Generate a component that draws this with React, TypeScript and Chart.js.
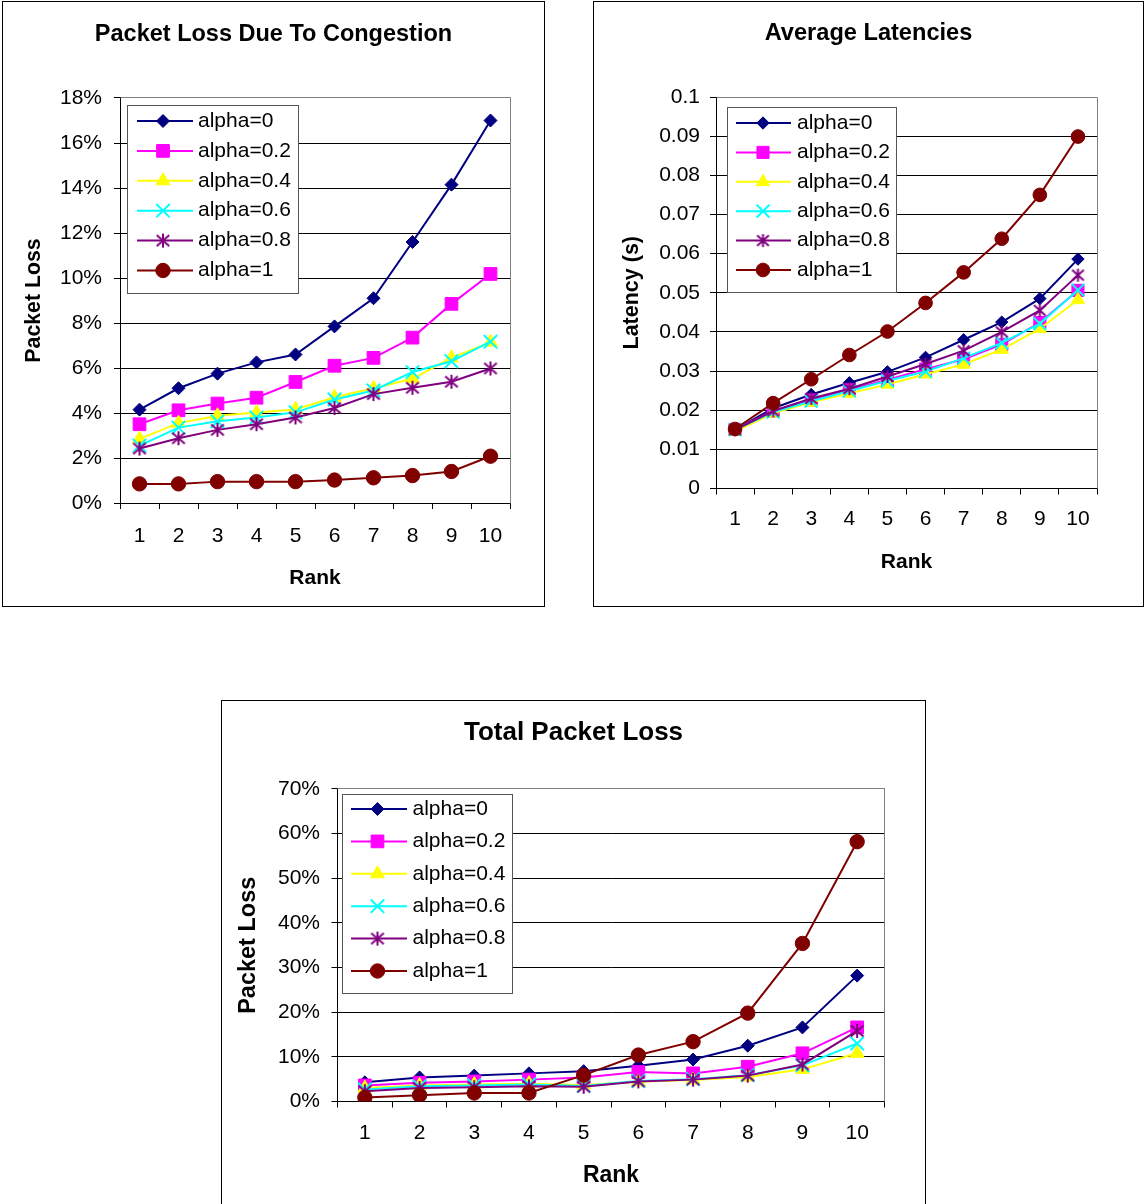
import React, { useEffect, useRef } from 'react';
import { Chart, registerables } from 'chart.js';
import { drawPoint } from 'chart.js/helpers';

Chart.register(...registerables);

const FONT = "'Liberation Sans', Arial, Helvetica, sans-serif";

// ---------- data ----------
const rankLabels = ['1', '2', '3', '4', '5', '6', '7', '8', '9', '10'];
const seriesNames = ['alpha=0', 'alpha=0.2', 'alpha=0.4', 'alpha=0.6', 'alpha=0.8', 'alpha=1'];

// Packet loss due to congestion (%)
const congestionA0 = [4.15, 5.1, 5.75, 6.25, 6.6, 7.85, 9.1, 11.6, 14.15, 17.0];
const congestionA02 = [3.5, 4.12, 4.42, 4.68, 5.38, 6.1, 6.45, 7.35, 8.85, 10.18];
const congestionA04 = [2.85, 3.55, 3.88, 4.02, 4.16, 4.7, 5.1, 5.52, 6.45, 7.15];
const congestionA06 = [2.55, 3.35, 3.63, 3.8, 4.03, 4.6, 5.0, 5.82, 6.3, 7.17];
const congestionA08 = [2.42, 2.88, 3.25, 3.5, 3.8, 4.22, 4.84, 5.12, 5.39, 5.98];
const congestionA1 = [0.85, 0.85, 0.95, 0.95, 0.95, 1.02, 1.12, 1.22, 1.4, 2.08];

// Average latencies (s)
const latencyA0 = [0.015, 0.0205, 0.024, 0.027, 0.0298, 0.0335, 0.038, 0.0425, 0.0485, 0.0586];
const latencyA02 = [0.0151, 0.0198, 0.0226, 0.0252, 0.0278, 0.0305, 0.033, 0.0368, 0.0424, 0.0506];
const latencyA04 = [0.0146, 0.0192, 0.022, 0.0243, 0.0266, 0.0292, 0.0317, 0.0355, 0.0408, 0.0482];
const latencyA06 = [0.015, 0.0195, 0.0223, 0.0249, 0.0275, 0.0299, 0.0333, 0.0372, 0.0421, 0.0507];
const latencyA08 = [0.015, 0.0198, 0.023, 0.0255, 0.0286, 0.0318, 0.0352, 0.04, 0.0455, 0.0545];
const latencyA1 = [0.0152, 0.0218, 0.0279, 0.0341, 0.0401, 0.0474, 0.0552, 0.0638, 0.075, 0.0899];

// Total packet loss (%)
const totalA0 = [4.3, 5.4, 5.8, 6.3, 6.8, 8.0, 9.4, 12.5, 16.6, 28.2];
const totalA02 = [3.6, 4.2, 4.5, 4.9, 5.4, 6.6, 6.3, 7.8, 10.8, 16.6];
const totalA04 = [3.0, 3.6, 3.8, 4.0, 3.7, 4.4, 4.8, 5.5, 7.2, 10.8];
const totalA06 = [2.7, 3.4, 3.6, 3.8, 3.5, 4.6, 5.0, 5.9, 8.1, 13.0];
const totalA08 = [2.3, 3.0, 3.2, 3.4, 3.3, 4.5, 4.9, 5.8, 8.3, 15.8];
const totalA1 = [0.9, 1.4, 1.9, 1.9, 5.9, 10.4, 13.4, 19.8, 35.4, 58.2];

// axis ranges
const congestionAxis = { min: 0, max: 18, step: 2 };
const latencyAxis = { min: 0, max: 0.1, step: 0.01 };
const totalAxis = { min: 0, max: 70, step: 10 };

// ---------- styles ----------
const seriesColors = ['#000080', '#FF00FF', '#FFFF00', '#00FFFF', '#800080', '#800000'];
const seriesMarkers = ['rectRot', 'rect', 'triangle', 'crossRot', 'asterisk', 'circle'];
const markerRadius = [6.5, 9, 8, 9.5, 7, 7.2];
const markerBorder = [1, 1, 1, 2, 2, 1];

function makeAsterisk(color: string, size: number, lw: number) {
  const c = document.createElement('canvas');
  c.width = size;
  c.height = size;
  const g = c.getContext('2d')!;
  g.strokeStyle = color;
  g.lineWidth = lw;
  const m = size / 2;
  const a = size / 2 - 1;
  g.beginPath();
  g.moveTo(m, m - a);
  g.lineTo(m, m + a);
  g.moveTo(m - a * 0.9, m - a * 0.8);
  g.lineTo(m + a * 0.9, m + a * 0.8);
  g.moveTo(m + a * 0.9, m - a * 0.8);
  g.lineTo(m - a * 0.9, m + a * 0.8);
  g.stroke();
  return c;
}

type Spec = {
  box: { left: number; top: number; width: number; height: number };
  area: { L: number; T: number; R: number; B: number };
  title: string;
  titleSize: number;
  titleCenterY: number;
  yTitle: string;
  yTitleSize: number;
  yTitleCenterX: number;
  xTitleSize: number;
  xTitleCenterY: number;
  tickSize: number;
  yTickGap: number;
  xTickCenterY: number;
  legend: {
    dx: number; dy: number; w: number; h: number; first: number; spacing: number;
    lineX1: number; lineX2: number; markerX: number; textX: number; font: number;
  };
  markerScale: number;
};

const frameLegendPlugin = {
  id: 'frameLegend',
  beforeDatasetsDraw(chart: any) {
    const { ctx, chartArea } = chart;
    const al = (p: number) => Math.round(p - 0.5) + 0.5;
    ctx.save();
    ctx.strokeStyle = '#808080';
    ctx.lineWidth = 1;
    ctx.beginPath();
    ctx.moveTo(al(chartArea.left), al(chartArea.top));
    ctx.lineTo(al(chartArea.right), al(chartArea.top));
    ctx.lineTo(al(chartArea.right), al(chartArea.bottom));
    ctx.stroke();
    ctx.restore();
  },
  afterDatasetsDraw(chart: any, _args: any, opts: any) {
    const lg = opts.legend;
    if (!lg) return;
    const { ctx, chartArea } = chart;
    const x0 = Math.round(chartArea.left + lg.dx);
    const y0 = Math.round(chartArea.top + lg.dy);
    ctx.save();
    ctx.fillStyle = '#ffffff';
    ctx.fillRect(x0, y0, lg.w, lg.h);
    ctx.strokeStyle = '#555555';
    ctx.lineWidth = 1;
    ctx.strokeRect(x0 + 0.5, y0 + 0.5, lg.w, lg.h);
    chart.data.datasets.forEach((ds: any, i: number) => {
      const y = y0 + lg.first + i * lg.spacing;
      ctx.strokeStyle = ds.borderColor;
      ctx.lineWidth = 2;
      ctx.beginPath();
      ctx.moveTo(x0 + lg.lineX1, y);
      ctx.lineTo(x0 + lg.lineX2, y);
      ctx.stroke();
      ctx.fillStyle = ds.pointBackgroundColor;
      ctx.strokeStyle = ds.pointBorderColor;
      ctx.lineWidth = ds.pointBorderWidth;
      drawPoint(ctx, {
        pointStyle: ds.pointStyle,
        radius: ds.pointRadius,
        borderWidth: ds.pointBorderWidth,
        rotation: 0,
      } as any, x0 + lg.markerX, y);
      ctx.fillStyle = '#000000';
      ctx.font = `${lg.font}px ${FONT}`;
      ctx.textBaseline = 'middle';
      ctx.textAlign = 'left';
      ctx.fillText(ds.label, x0 + lg.textX, y);
    });
    ctx.restore();
  },
};

function buildConfig(spec: Spec, series: number[][], axis: { min: number; max: number; step: number }, fmt: (v: number) => string) {
  const W = spec.box.width - 2;
  const H = spec.box.height - 2;
  const { L, T, R, B } = spec.area;
  const tl = 6;
  const tLh = spec.titleSize * 1.2;
  const titlePadTop = spec.titleCenterY - tLh / 2;
  const titlePadBottom = T - titlePadTop - tLh;
  const yLh = spec.yTitleSize * 1.2;
  const yTitlePad = spec.yTitleCenterX - yLh / 2;
  const xLh = spec.xTitleSize * 1.2;
  const xTitlePadBottom = H - spec.xTitleCenterY - xLh / 2;
  const tickLh = spec.tickSize * 1.2;
  const xTickPad = spec.xTickCenterY - B - tl - tickLh / 2;
  const yTickPad = spec.yTickGap - tl;

  const datasets = series.map((values, i) => {
    const marker = seriesMarkers[i] === 'asterisk'
      ? makeAsterisk(seriesColors[i], Math.round(16 * spec.markerScale), markerBorder[i])
      : seriesMarkers[i];
    const r = markerRadius[i] * spec.markerScale;
    return {
      label: seriesNames[i],
      data: values,
      yAxisID: 'y',
      xAxisID: 'x',
      borderColor: seriesColors[i],
      backgroundColor: seriesColors[i],
      borderWidth: 2,
      tension: 0,
      fill: false,
      pointStyle: marker,
      pointRadius: r,
      pointHoverRadius: r,
      pointBackgroundColor: seriesColors[i],
      pointBorderColor: seriesColors[i],
      pointBorderWidth: markerBorder[i],
      order: -i,
    };
  });

  return {
    type: 'line',
    data: { labels: rankLabels, datasets },
    options: {
      responsive: false,
      animation: false,
      devicePixelRatio: 1,
      events: [],
      layout: { padding: { left: 0, right: 0, top: 0, bottom: 0 } },
      plugins: {
        legend: { display: false },
        tooltip: { enabled: false },
        title: {
          display: true,
          text: spec.title,
          color: '#000000',
          font: { family: FONT, size: spec.titleSize, weight: 'bold', lineHeight: 1.2 },
          padding: { top: titlePadTop, bottom: titlePadBottom },
        },
        frameLegend: { legend: spec.legend },
      },
      scales: {
        x: {
          type: 'category',
          position: 'bottom',
          offset: true,
          grid: {
            offset: true,
            drawOnChartArea: false,
            drawTicks: true,
            tickLength: tl,
            color: '#000000',
            lineWidth: 1,
          },
          border: { display: true, color: '#000000', width: 1 },
          ticks: {
            color: '#000000',
            font: { family: FONT, size: spec.tickSize, lineHeight: 1.2 },
            padding: xTickPad,
            autoSkip: false,
            maxRotation: 0,
            minRotation: 0,
          },
          title: {
            display: true,
            text: 'Rank',
            color: '#000000',
            font: { family: FONT, size: spec.xTitleSize, weight: 'bold', lineHeight: 1.2 },
            padding: { top: 0, bottom: xTitlePadBottom },
          },
          afterFit: (s: any) => { s.height = H - B; },
        },
        y: {
          type: 'linear',
          position: 'left',
          min: axis.min,
          max: axis.max,
          grid: {
            drawOnChartArea: true,
            drawTicks: true,
            tickLength: tl,
            color: '#000000',
            lineWidth: 1,
          },
          border: { display: true, color: '#000000', width: 1 },
          ticks: {
            stepSize: axis.step,
            color: '#000000',
            font: { family: FONT, size: spec.tickSize, lineHeight: 1.2 },
            padding: yTickPad,
            callback: (v: any) => fmt(Number(v)),
          },
          title: {
            display: true,
            text: spec.yTitle,
            color: '#000000',
            font: { family: FONT, size: spec.yTitleSize, weight: 'bold', lineHeight: 1.2 },
            padding: { top: yTitlePad, bottom: 0 },
          },
          afterFit: (s: any) => { s.width = L; },
        },
        spacer: {
          type: 'linear',
          position: 'right',
          display: true,
          grid: { display: false, drawTicks: false },
          border: { display: false },
          ticks: { display: false },
          afterFit: (s: any) => { s.width = W - R; },
        },
      },
    },
    plugins: [frameLegendPlugin],
  } as any;
}

const pctFmt = (v: number) => `${Math.round(v)}%`;
const latFmt = (v: number) => `${Number(v.toFixed(2))}`;

const spec1: Spec = {
  box: { left: 2, top: 1, width: 543, height: 606 },
  area: { L: 117, T: 96, R: 507, B: 501 },
  title: 'Packet Loss Due To Congestion',
  titleSize: 23.5,
  titleCenterY: 33,
  yTitle: 'Packet Loss',
  yTitleSize: 21.3,
  yTitleCenterX: 31,
  xTitleSize: 21,
  xTitleCenterY: 576.5,
  tickSize: 21,
  yTickGap: 18,
  xTickCenterY: 534.5,
  legend: { dx: 7, dy: 7, w: 171, h: 188, first: 16, spacing: 29.9, lineX1: 10, lineX2: 66, markerX: 36, textX: 71, font: 21 },
  markerScale: 1,
};

const spec2: Spec = {
  box: { left: 593, top: 1, width: 551, height: 606 },
  area: { L: 122, T: 95, R: 503, B: 486.5 },
  title: 'Average Latencies',
  titleSize: 23.6,
  titleCenterY: 31,
  yTitle: 'Latency (s)',
  yTitleSize: 21.5,
  yTitleCenterX: 38,
  xTitleSize: 21,
  xTitleCenterY: 560.5,
  tickSize: 21,
  yTickGap: 16,
  xTickCenterY: 517.5,
  legend: { dx: 10.5, dy: 10, w: 169, h: 185, first: 16, spacing: 29.4, lineX1: 9, lineX2: 64, markerX: 36, textX: 70, font: 21 },
  markerScale: 0.95,
};

const spec3: Spec = {
  box: { left: 221, top: 700, width: 705, height: 515 },
  area: { L: 115.5, T: 88, R: 662.5, B: 400.5 },
  title: 'Total Packet Loss',
  titleSize: 26,
  titleCenterY: 31.5,
  yTitle: 'Packet Loss',
  yTitleSize: 23.5,
  yTitleCenterX: 27,
  xTitleSize: 23,
  xTitleCenterY: 474.5,
  tickSize: 21,
  yTickGap: 17.5,
  xTickCenterY: 432.5,
  legend: { dx: 4.5, dy: 5, w: 170, h: 199, first: 15, spacing: 32.4, lineX1: 9, lineX2: 65, markerX: 35.5, textX: 70.5, font: 21 },
  markerScale: 1,
};

function ChartBox({ spec, makeConfig }: { spec: Spec; makeConfig: () => any }) {
  const ref = useRef<HTMLCanvasElement>(null);
  useEffect(() => {
    const chart = new Chart(ref.current as HTMLCanvasElement, makeConfig());
    return () => chart.destroy();
  }, []);
  const w = spec.box.width - 2;
  const h = spec.box.height - 2;
  return (
    <div
      style={{
        position: 'absolute',
        left: spec.box.left,
        top: spec.box.top,
        width: spec.box.width,
        height: spec.box.height,
        border: '1px solid #000',
        boxSizing: 'border-box',
        background: '#fff',
      }}
    >
      <canvas ref={ref} width={w} height={h} style={{ display: 'block', width: w, height: h }} />
    </div>
  );
}

export default function App() {
  return (
    <div
      style={{
        position: 'absolute',
        left: 0,
        top: 0,
        width: 1144,
        height: 1204,
        overflow: 'hidden',
        background: '#fff',
      }}
    >
      <ChartBox
        spec={spec1}
        makeConfig={() =>
          buildConfig(spec1, [congestionA0, congestionA02, congestionA04, congestionA06, congestionA08, congestionA1], congestionAxis, pctFmt)
        }
      />
      <ChartBox
        spec={spec2}
        makeConfig={() =>
          buildConfig(spec2, [latencyA0, latencyA02, latencyA04, latencyA06, latencyA08, latencyA1], latencyAxis, latFmt)
        }
      />
      <ChartBox
        spec={spec3}
        makeConfig={() =>
          buildConfig(spec3, [totalA0, totalA02, totalA04, totalA06, totalA08, totalA1], totalAxis, pctFmt)
        }
      />
    </div>
  );
}
